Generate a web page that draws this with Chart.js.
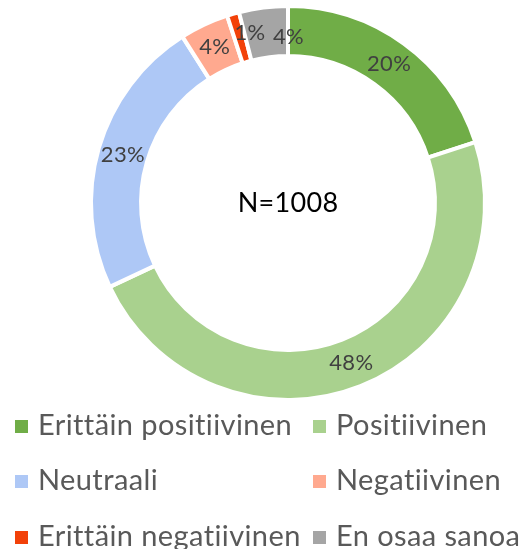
<!DOCTYPE html>
<html lang="fi">
<head>
    <meta charset="UTF-8">
    <title>Doughnut</title>
    <style>
        html, body { margin: 0; padding: 0; background: #ffffff; }
        #container { width: 530px; height: 549px; }
    </style>
</head>
<body>
<div id="container">
    <canvas id="canvas" width="530" height="549"></canvas>
</div>

<script src="https://cdn.jsdelivr.net/npm/chart.js@4.4.0/dist/chart.umd.min.js"></script>
<script>
    const LABELS = [
        "Erittäin positiivinen", "Positiivinen",
        "Neutraali", "Negatiivinen",
        "Erittäin negatiivinen", "En osaa sanoa"
    ];
    const VALUES = [20, 48, 23, 4, 1, 4];
    const COLORS = ["#70AD47", "#A9D18E", "#AEC8F6", "#FFA98F", "#F24109", "#A5A5A5"];
    const CENTER_TEXT = "N=1008";

    const FONT = "Lato, 'Open Sans', sans-serif";

    // percentage labels in the middle of the ring + centre text
    const ringLabels = {
        id: "ringLabels",
        afterDatasetsDraw(chart) {
            const ctx = chart.ctx;
            const meta = chart.getDatasetMeta(0);
            const total = VALUES.reduce((a, b) => a + b, 0);
            // the two tiny slices at the top get their labels pushed apart a bit
            const nudge = {4: [10, -5], 5: [22, 5]};
            ctx.save();
            ctx.fillStyle = "#404040";
            ctx.font = "22px " + FONT;
            ctx.letterSpacing = "0.3px";
            ctx.textAlign = "center";
            ctx.textBaseline = "middle";
            meta.data.forEach((arc, i) => {
                const p = arc.tooltipPosition();
                const d = nudge[i] || [0, 0];
                const pct = Math.round(VALUES[i] / total * 100) + "%";
                ctx.fillText(pct, p.x + d[0], p.y + d[1]);
            });
            const cx = (chart.chartArea.left + chart.chartArea.right) / 2;
            const cy = (chart.chartArea.top + chart.chartArea.bottom) / 2;
            ctx.fillStyle = "#000000";
            ctx.font = "27px " + FONT;
            ctx.fillText(CENTER_TEXT, cx, cy);
            ctx.restore();
        }
    };

    // two-column legend under the chart
    const gridLegend = {
        id: "gridLegend",
        afterDraw(chart) {
            const ctx = chart.ctx;
            const colX = [15, 313];
            const rowY = [435, 490, 546];
            ctx.save();
            ctx.font = "29px " + FONT;
            ctx.letterSpacing = "0.4px";
            ctx.textBaseline = "alphabetic";
            ctx.textAlign = "left";
            LABELS.forEach((label, i) => {
                const x = colX[i % 2];
                const y = rowY[Math.floor(i / 2)];
                ctx.fillStyle = COLORS[i];
                ctx.fillRect(x, y - 15, 13, 13);
                ctx.fillStyle = "#595959";
                // zero-width non-joiner keeps Lato from merging "ti" into a ligature
                ctx.fillText(label.replace(/ti/g, "t\u200Ci"), x + 23, y);
            });
            ctx.restore();
        }
    };

    const ctx = document.getElementById("canvas").getContext("2d");
    new Chart(ctx, {
        type: "doughnut",
        data: {
            labels: LABELS,
            datasets: [{
                data: VALUES,
                backgroundColor: COLORS,
                borderColor: "#ffffff",
                borderWidth: 4
            }]
        },
        options: {
            responsive: false,
            animation: false,
            cutout: "74.6%",
            layout: {
                padding: {top: 4, bottom: 147, left: 89, right: 43}
            },
            plugins: {
                legend: {display: false},
                tooltip: {enabled: false}
            }
        },
        plugins: [ringLabels, gridLegend]
    });
</script>
</body>
</html>
